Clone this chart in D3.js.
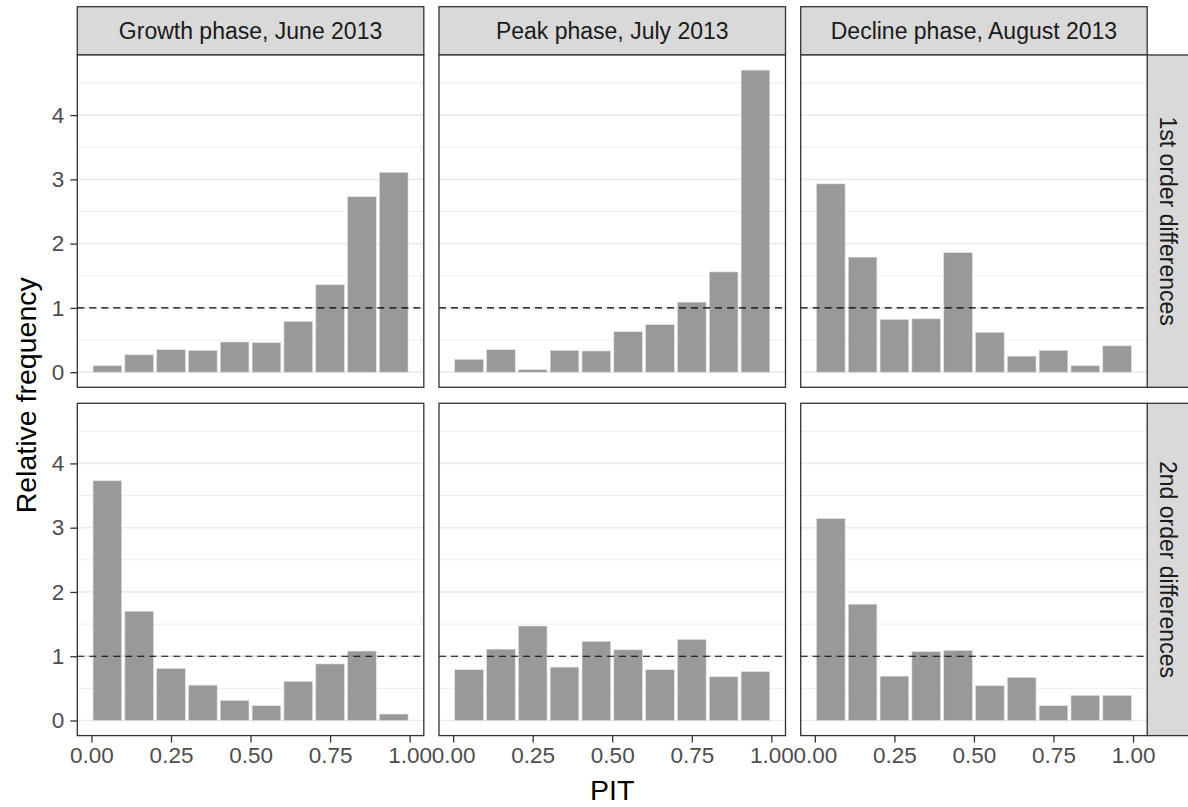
<!DOCTYPE html>
<html>
<head>
<meta charset="utf-8">
<script src="https://cdn.jsdelivr.net/npm/d3@7"></script>
<style>
  body { margin: 0; background: #fff; }
  svg text { font-family: "Liberation Sans", Arial, sans-serif; }
</style>
</head>
<body>
<svg id="chart" width="1188" height="807"></svg>
<script>
// Facet labels
const phases = ["Growth phase, June 2013", "Peak phase, July 2013", "Decline phase, August 2013"];
const orders = ["1st order differences", "2nd order differences"];

// PIT bin centres (10 bins)
const binMids = [0.05, 0.15, 0.25, 0.35, 0.45, 0.55, 0.65, 0.75, 0.85, 0.95];

// Relative frequencies per panel
const growth1st  = [0.10, 0.27, 0.35, 0.34, 0.47, 0.46, 0.79, 1.36, 2.73, 3.11];
const peak1st    = [0.20, 0.35, 0.04, 0.34, 0.33, 0.63, 0.74, 1.09, 1.56, 4.70];
const decline1st = [2.93, 1.79, 0.82, 0.83, 1.86, 0.62, 0.25, 0.34, 0.10, 0.41];
const growth2nd  = [3.73, 1.70, 0.81, 0.55, 0.31, 0.23, 0.61, 0.88, 1.08, 0.10];
const peak2nd    = [0.79, 1.11, 1.47, 0.83, 1.23, 1.10, 0.79, 1.26, 0.68, 0.76];
const decline2nd = [3.14, 1.81, 0.69, 1.07, 1.09, 0.54, 0.67, 0.23, 0.39, 0.39];

const xTicks = [0, 0.25, 0.5, 0.75, 1];
const yTicks = [0, 1, 2, 3, 4];
const yMinor = [0.5, 1.5, 2.5, 3.5, 4.5];
const refLine = 1;

const panelValues = [
  [growth1st, peak1st, decline1st],
  [growth2nd, peak2nd, decline2nd]
];

// Layout constants
const colX = [77.3, 439, 800.7];
const rowY = [55, 403.3];
const panelW = 346.5;
const panelH = 332.3;
const stripTop = 6.7;
const stripRightX = 1147;
const binWidth = 0.09;

const svg = d3.select("#chart");

// Scales (ggplot style 5% expansion)
const xMinData = binMids[0] - binWidth / 2;
const xMaxData = binMids[binMids.length - 1] + binWidth / 2;
const xPad = (xMaxData - xMinData) * 0.05;
const xScale = d3.scaleLinear()
  .domain([xMinData - xPad, xMaxData + xPad])
  .range([0, panelW]);

const yMax = d3.max(panelValues.flat(2));
const yScale = d3.scaleLinear()
  .domain([-0.05 * yMax, yMax * 1.05])
  .range([panelH, 0]);

// Column strips on top
phases.forEach((p, c) => {
  const g = svg.append("g").attr("transform", "translate(" + colX[c] + "," + stripTop + ")");
  g.append("rect")
    .attr("width", panelW).attr("height", rowY[0] - stripTop)
    .attr("fill", "#d9d9d9").attr("stroke", "#333").attr("stroke-width", 1.3);
  g.append("text")
    .attr("x", panelW / 2).attr("y", (rowY[0] - stripTop) / 2)
    .attr("text-anchor", "middle").attr("dominant-baseline", "central")
    .attr("fill", "#1a1a1a").style("font-size", "23px")
    .text(p);
});

// Row strips on the right
orders.forEach((o, r) => {
  const g = svg.append("g").attr("transform", "translate(" + stripRightX + "," + rowY[r] + ")");
  g.append("rect")
    .attr("width", 44).attr("height", panelH)
    .attr("fill", "#d9d9d9").attr("stroke", "#333").attr("stroke-width", 1.3);
  g.append("text")
    .attr("transform", "translate(21," + (panelH / 2) + ") rotate(90)")
    .attr("text-anchor", "middle").attr("dominant-baseline", "central")
    .attr("fill", "#1a1a1a").style("font-size", "23px")
    .text(o);
});

// Panels
panelValues.forEach((row, r) => {
  row.forEach((vals, c) => {
    const g = svg.append("g").attr("transform", "translate(" + colX[c] + "," + rowY[r] + ")");

    g.append("rect")
      .attr("width", panelW).attr("height", panelH).attr("fill", "#fff");

    g.selectAll("line.minor")
      .data(yMinor)
      .enter()
      .append("line")
      .attr("class", "minor")
      .attr("x1", 0).attr("x2", panelW)
      .attr("y1", d => yScale(d)).attr("y2", d => yScale(d))
      .attr("stroke", "#ebebeb").attr("stroke-width", 0.9);

    g.selectAll("line.major")
      .data(yTicks)
      .enter()
      .append("line")
      .attr("class", "major")
      .attr("x1", 0).attr("x2", panelW)
      .attr("y1", d => yScale(d)).attr("y2", d => yScale(d))
      .attr("stroke", "#ebebeb").attr("stroke-width", 1.7);

    g.selectAll("rect.bar")
      .data(vals)
      .enter()
      .append("rect")
      .attr("class", "bar")
      .attr("x", (d, i) => xScale(binMids[i] - binWidth / 2))
      .attr("width", xScale(binWidth) - xScale(0))
      .attr("y", d => yScale(d))
      .attr("height", d => yScale(0) - yScale(d))
      .attr("fill", "#999999")
      .attr("stroke", "#e0e0e0")
      .attr("stroke-width", 0.6);

    g.append("line")
      .attr("x1", 0).attr("x2", panelW)
      .attr("y1", yScale(refLine)).attr("y2", yScale(refLine))
      .attr("stroke", "#000").attr("stroke-width", 1.1)
      .attr("stroke-dasharray", "7,5");

    g.append("rect")
      .attr("width", panelW).attr("height", panelH)
      .attr("fill", "none").attr("stroke", "#333").attr("stroke-width", 1.3);

    // y axis on first column
    if (c === 0) {
      const yAxis = d3.axisLeft(yScale)
        .tickValues(yTicks)
        .tickSize(7)
        .tickPadding(6)
        .tickFormat(d3.format("d"));
      const ya = g.append("g").call(yAxis);
      ya.select(".domain").remove();
      ya.selectAll(".tick line").attr("stroke", "#333").attr("stroke-width", 1.3);
      ya.selectAll(".tick text").attr("fill", "#4d4d4d").style("font-size", "22.5px");
    }

    // x axis on bottom row
    if (r === 1) {
      const xAxis = d3.axisBottom(xScale)
        .tickValues(xTicks)
        .tickSize(7)
        .tickPadding(4)
        .tickFormat(d3.format(".2f"));
      const xa = g.append("g")
        .attr("transform", "translate(0," + panelH + ")")
        .call(xAxis);
      xa.select(".domain").remove();
      xa.selectAll(".tick line").attr("stroke", "#333").attr("stroke-width", 1.3);
      xa.selectAll(".tick text").attr("fill", "#4d4d4d").style("font-size", "22.5px");
    }
  });
});

// Axis titles
svg.append("text")
  .attr("x", colX[1] + panelW / 2).attr("y", 800)
  .attr("text-anchor", "middle")
  .style("font-size", "28.5px")
  .text("PIT");

svg.append("text")
  .attr("transform", "translate(36," + ((rowY[0] + rowY[1] + panelH) / 2) + ") rotate(-90)")
  .attr("text-anchor", "middle")
  .style("font-size", "28.5px")
  .text("Relative frequency");
</script>
</body>
</html>
